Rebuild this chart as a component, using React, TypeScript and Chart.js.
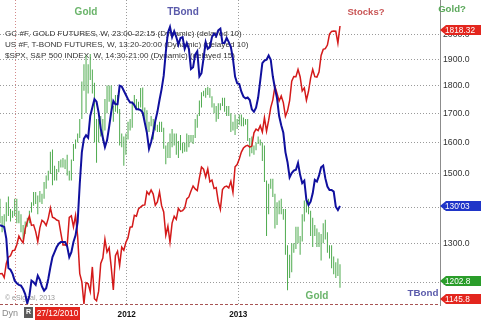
import React, { useEffect, useRef } from "react";
import { Chart, registerables } from "chart.js";

Chart.register(...registerables);

// ---------- DATA (weekly, Nov 2010 -> Dec 2013) ----------
const GOLD_HIGH = [
  1425, 1375, 1380, 1415, 1432, 1395, 1390, 1425, 1425, 1390,
  1380, 1350, 1360, 1370, 1390, 1415, 1445, 1445, 1435, 1448,
  1440, 1475, 1495, 1510, 1570, 1577, 1525, 1515, 1540, 1545,
  1550, 1545, 1560, 1510, 1545, 1595, 1610, 1630, 1680, 1815,
  1880, 1915, 1880, 1920, 1860, 1810, 1680, 1680, 1690, 1680,
  1750, 1800, 1800, 1800, 1725, 1765, 1765, 1715, 1630, 1620,
  1630, 1670, 1680, 1740, 1765, 1750, 1740, 1790, 1792, 1720,
  1710, 1670, 1690, 1680, 1680, 1660, 1670, 1670, 1650, 1590,
  1600, 1630, 1645, 1630, 1630, 1605, 1625, 1600, 1600, 1630,
  1625, 1625, 1625, 1680, 1695, 1745, 1775, 1780, 1790, 1795,
  1790, 1760, 1735, 1725, 1735, 1735, 1755, 1755, 1725, 1725,
  1700, 1670, 1695, 1680, 1695, 1695, 1685, 1680, 1680, 1615,
  1620, 1590, 1600, 1620, 1610, 1600, 1590, 1480, 1470, 1485,
  1485, 1440, 1415, 1420, 1425, 1395, 1395, 1295, 1270, 1300,
  1300, 1345, 1345, 1320, 1380, 1420, 1430, 1425, 1390, 1370,
  1350, 1340, 1330, 1325, 1355, 1365, 1330, 1295, 1295, 1265,
  1250, 1260, 1245,
];
const GOLD_LOW = [
  1355, 1330, 1340, 1360, 1375, 1360, 1370, 1375, 1355, 1355,
  1330, 1310, 1325, 1345, 1355, 1385, 1405, 1410, 1380, 1415,
  1410, 1425, 1455, 1480, 1500, 1465, 1480, 1480, 1505, 1520,
  1520, 1515, 1495, 1480, 1480, 1540, 1580, 1600, 1615, 1680,
  1780, 1700, 1770, 1820, 1770, 1600, 1535, 1600, 1620, 1605,
  1640, 1700, 1740, 1710, 1670, 1705, 1700, 1590, 1585, 1525,
  1560, 1610, 1640, 1650, 1720, 1715, 1710, 1720, 1690, 1670,
  1630, 1635, 1655, 1610, 1640, 1635, 1635, 1635, 1580, 1530,
  1550, 1550, 1585, 1590, 1560, 1550, 1575, 1565, 1570, 1570,
  1585, 1600, 1595, 1615, 1650, 1690, 1720, 1760, 1755, 1765,
  1755, 1720, 1700, 1670, 1680, 1710, 1725, 1705, 1690, 1690,
  1635, 1640, 1625, 1645, 1660, 1655, 1655, 1660, 1605, 1555,
  1565, 1560, 1575, 1595, 1590, 1540, 1475, 1320, 1380, 1455,
  1430, 1340, 1350, 1380, 1380, 1365, 1270, 1180, 1210, 1225,
  1275, 1285, 1300, 1270, 1305, 1360, 1385, 1380, 1320, 1290,
  1320, 1290, 1290, 1255, 1300, 1310, 1275, 1260, 1235, 1220,
  1210, 1215, 1186,
];
const GOLD_LAST = 1202.8;

const SPX = [
  1199.2, 1199.7, 1189.4, 1224.7, 1240.4, 1243.9, 1256.8, 1257.6, 1271.5, 1293.2,
  1283.4, 1276.3, 1310.9, 1329.2, 1343.0, 1319.9, 1321.2, 1304.3, 1279.2, 1313.8,
  1332.4, 1328.2, 1319.7, 1337.4, 1363.6, 1340.2, 1337.8, 1333.3, 1331.1, 1300.2,
  1271.0, 1271.5, 1268.5, 1339.7, 1343.8, 1316.1, 1345.0, 1292.3, 1199.4, 1178.8,
  1123.5, 1176.8, 1174.0, 1154.2, 1216.0, 1136.4, 1131.4, 1155.5, 1224.6, 1238.3,
  1285.1, 1253.2, 1263.9, 1215.7, 1158.7, 1244.3, 1255.2, 1219.7, 1265.3, 1257.6,
  1277.8, 1289.1, 1315.4, 1316.3, 1344.9, 1342.6, 1361.2, 1365.7, 1370.0, 1370.9,
  1404.2, 1397.1, 1408.5, 1398.1, 1370.3, 1378.5, 1403.4, 1369.1, 1353.4, 1295.2,
  1317.8, 1278.0, 1325.7, 1342.8, 1335.0, 1362.2, 1354.7, 1356.8, 1362.7, 1386.0,
  1391.0, 1405.9, 1418.2, 1411.1, 1406.6, 1437.9, 1465.8, 1460.2, 1440.7, 1460.9,
  1428.6, 1433.2, 1411.9, 1414.2, 1379.9, 1359.9, 1409.2, 1416.2, 1418.1, 1413.6,
  1430.2, 1402.4, 1466.5, 1472.1, 1486.0, 1503.0, 1513.2, 1517.9, 1519.8, 1515.6,
  1518.2, 1551.2, 1560.7, 1556.9, 1569.2, 1553.3, 1588.9, 1555.3, 1582.2, 1614.4,
  1633.7, 1667.5, 1649.6, 1630.7, 1643.4, 1626.7, 1592.4, 1606.3, 1631.9, 1680.2,
  1692.1, 1691.7, 1709.7, 1691.4, 1655.8, 1663.5, 1633.0, 1655.2, 1688.0, 1709.9,
  1691.8, 1690.5, 1703.2, 1744.5, 1759.8, 1761.6, 1770.6, 1798.2, 1804.8, 1805.8,
  1805.1, 1775.3, 1818.32,
];
const SPX_LOW_TAG = 1145.8;

const TBOND = [
  127.8, 127.7, 127.6, 126.2, 122.7, 122.5, 122.0, 121.2, 120.9, 120.7,
  120.6, 120.2, 119.6, 118.5, 119.4, 121.2, 121.0, 120.7, 121.8, 121.3,
  120.5, 120.0, 120.3, 121.4, 122.8, 124.0, 124.6, 125.2, 125.6, 125.8,
  125.8, 125.8, 125.3, 124.0, 124.6, 125.8, 126.6, 128.2, 132.7, 136.5,
  138.1, 138.5, 138.2, 140.8, 141.8, 142.8, 142.5, 141.2, 139.3, 138.2,
  137.1, 137.9, 139.5, 141.3, 142.6, 142.2, 142.2, 144.4, 144.3, 143.8,
  143.3, 142.8, 142.4, 142.4, 142.1, 141.6, 141.6, 141.5, 141.2, 140.0,
  138.8, 136.9, 137.7, 138.8, 140.2, 141.3, 142.7, 144.0, 145.6, 148.4,
  150.7, 151.4, 150.2, 150.9, 150.2, 149.3, 150.1, 150.2, 148.8, 149.5,
  148.8, 146.4, 146.6, 148.1, 148.5, 145.5, 145.9, 147.7, 149.6, 148.8,
  149.0, 150.2, 150.6, 150.3, 151.0, 151.2, 149.5, 149.5, 150.1, 149.6,
  149.0, 147.6, 145.5, 144.7, 144.6, 143.7, 143.1, 142.9, 143.0, 142.7,
  141.6, 141.3, 141.8, 143.0, 145.0, 147.1, 147.4, 147.5, 148.0, 147.5,
  145.5, 144.1, 142.9, 140.8, 139.7, 138.8, 136.5, 135.3, 133.5, 134.0,
  134.3, 134.4, 135.2, 133.8, 132.8, 133.1, 130.8, 130.2, 130.6, 131.6,
  133.2, 133.0, 133.7, 134.7, 134.9, 133.4, 132.4, 132.0, 132.0, 131.8,
  130.0, 129.6, 130.09,
];

const GOLD_TICKS = [1200, 1300, 1400, 1500, 1600, 1700, 1800, 1900, 2000];
const YEAR_LABELS = ["2012", "2013"];
const YEAR_WEEKS = [60.37, 113.54]; // week index of year boundaries
const CURSOR_WEEK = 7.62; // 27/12/2010
const START_DATE = "27/12/2010";
const INFO_LINES = [
  "GC #F, GOLD FUTURES, W, 23:00-22:15 (Dynamic) (delayed 10)",
  "US #F, T-BOND FUTURES, W, 13:20-20:00 (Dynamic) (delayed 10)",
  "$SPX, S&P 500 INDEX, W, 14:30-21:00 (Dynamic) (delayed 15)",
];
const COPYRIGHT = "© eSignal, 2013";

// axis ranges
const X_MAX = 209.65;
const GOLD_MIN = 1144.8;
const GOLD_MAX = 2146.5;
const SPX_MIN = 1120.82;
const SPX_MAX = 1883.32;
const BOND_MIN = 118.3;
const BOND_MAX = 154.61;

const FONT = "'Liberation Sans', Arial, sans-serif";

function bond32(v: number) {
  const whole = Math.floor(v);
  const t = Math.round((v - whole) * 32);
  return `${whole}'${String(t).padStart(2, "0")}`;
}

function drawTag(ctx: CanvasRenderingContext2D, x0: number, y: number, text: string, color: string) {
  const h = 10;
  ctx.fillStyle = color;
  ctx.beginPath();
  ctx.moveTo(x0, y);
  ctx.lineTo(x0 + 6, y - h / 2);
  ctx.lineTo(x0 + 41, y - h / 2);
  ctx.lineTo(x0 + 41, y + h / 2);
  ctx.lineTo(x0 + 6, y + h / 2);
  ctx.closePath();
  ctx.fill();
  ctx.fillStyle = "#fff";
  ctx.font = `8.3px ${FONT}`;
  ctx.textAlign = "left";
  ctx.textBaseline = "middle";
  ctx.fillText(text, x0 + 5, y + 0.5);
}

const overlayPlugin = {
  id: "overlay",
  beforeDatasetsDraw(chart: any) {
    const ctx = chart.ctx as CanvasRenderingContext2D;
    ctx.save();
    ctx.font = `8.1px ${FONT}`;
    ctx.fillStyle = "#333";
    ctx.textBaseline = "middle";
    ctx.textAlign = "left";
    INFO_LINES.forEach((t, k) => ctx.fillText(t, 5, 33.5 + k * 11));
    ctx.font = `7px ${FONT}`;
    ctx.fillStyle = "#9a9a9a";
    ctx.fillText(COPYRIGHT, 5, 298);
    ctx.restore();
  },
  afterDraw(chart: any) {
    const ctx = chart.ctx as CanvasRenderingContext2D;
    const { left, right, bottom } = chart.chartArea;
    const s = chart.scales;
    ctx.save();
    // bottom dashed level line
    ctx.strokeStyle = "#a85454";
    ctx.lineWidth = 1;
    ctx.setLineDash([3, 2]);
    ctx.beginPath();
    ctx.moveTo(left, bottom - 0.5);
    ctx.lineTo(right, bottom - 0.5);
    ctx.stroke();
    ctx.setLineDash([]);

    // annotations
    const notes: [string, string, number, number, number][] = [
      ["Gold", "#6ab46a", 86, 12.5, 10],
      ["TBond", "#5b5bab", 183, 12.5, 10],
      ["Stocks?", "#c95656", 366, 12, 9.5],
      ["Gold?", "#5aa85a", 452, 9, 9.6],
      ["Gold", "#6ab46a", 317, 296, 10],
      ["TBond", "#5b5bab", 423, 293, 9.8],
    ];
    ctx.textAlign = "center";
    ctx.textBaseline = "middle";
    notes.forEach(([t, c, x, y, sz]) => {
      ctx.font = `bold ${sz}px ${FONT}`;
      ctx.fillStyle = c;
      ctx.fillText(t, x, y);
    });

    // value tags on the right axis
    const x0 = right;
    const spxLast = SPX[SPX.length - 1];
    drawTag(ctx, x0, s.ySpx.getPixelForValue(spxLast) + 4, spxLast.toFixed(2), "#e3261e");
    drawTag(ctx, x0, s.yBond.getPixelForValue(TBOND[TBOND.length - 1]), bond32(TBOND[TBOND.length - 1]), "#1f35c8");
    drawTag(ctx, x0, s.y.getPixelForValue(GOLD_LAST), GOLD_LAST.toFixed(1), "#2a9d2a");
    drawTag(ctx, x0, Math.min(s.ySpx.getPixelForValue(SPX_LOW_TAG) + 4, bottom - 4), SPX_LOW_TAG.toFixed(1), "#e3261e");

    // bottom-left widgets
    ctx.textAlign = "left";
    ctx.textBaseline = "middle";
    ctx.font = `9px ${FONT}`;
    ctx.fillStyle = "#8a8a8a";
    ctx.fillText("Dyn", 2, 313.5);
    ctx.fillStyle = "#5a5a5a";
    ctx.fillRect(24, 307, 9, 11);
    ctx.fillStyle = "#fff";
    ctx.font = `bold 7px ${FONT}`;
    ctx.fillText("R", 26, 312.5);
    ctx.fillStyle = "#e3261e";
    ctx.fillRect(35, 307, 45, 13);
    ctx.fillStyle = "#fff";
    ctx.font = `8.3px ${FONT}`;
    ctx.textAlign = "center";
    ctx.fillText(START_DATE, 57.5, 314);
    ctx.restore();
  },
};

export default function App() {
  const ref = useRef<HTMLCanvasElement | null>(null);
  useEffect(() => {
    if (!ref.current) return;
    const chart = new Chart(ref.current, {
      type: "line",
      data: {
        datasets: [
          {
            type: "line",
            label: "T-Bond",
            data: TBOND.map((v, i) => ({ x: i, y: v })),
            borderColor: "#10109e",
            borderWidth: 2,
            pointRadius: 0,
            tension: 0,
            yAxisID: "yBond",
            xAxisID: "x",
            order: 1,
          } as any,
          {
            type: "line",
            label: "S&P 500",
            data: SPX.map((v, i) => ({ x: i, y: v })),
            borderColor: "#d41a1a",
            borderWidth: 1.5,
            pointRadius: 0,
            tension: 0,
            yAxisID: "ySpx",
            xAxisID: "x",
            order: 2,
          } as any,
          {
            type: "bar",
            label: "Gold",
            data: GOLD_HIGH.map((h, i) => ({ x: i, y: [GOLD_LOW[i], h] })),
            backgroundColor: "#4eaa4e",
            borderWidth: 0,
            barThickness: 1,
            inflateAmount: 0,
            grouped: false,
            yAxisID: "y",
            xAxisID: "x",
            order: 3,
          } as any,
        ],
      },
      options: {
        responsive: true,
        maintainAspectRatio: false,
        animation: false,
        events: [],
        layout: { padding: 0 },
        plugins: { legend: { display: false }, tooltip: { enabled: false } },
        scales: {
          x: {
            type: "linear",
            min: 0,
            max: X_MAX,
            offset: false,
            grid: {
              color: (c: any) => (c.index === 0 ? "#d28a8a" : "#9a9a9a"),
              lineWidth: 1,
              drawTicks: false,
              offset: false,
            },
            border: { display: false, dash: [1, 2] },
            ticks: {
              autoSkip: false,
              maxRotation: 0,
              padding: 5,
              color: "#111",
              font: { size: 8.2, weight: "bold", family: FONT },
              callback: (_v: any, i: number) => (i === 0 ? "" : YEAR_LABELS[i - 1]),
            },
            afterBuildTicks: (sc: any) => {
              sc.ticks = [CURSOR_WEEK, ...YEAR_WEEKS].map((v) => ({ value: v }));
            },
            afterFit: (sc: any) => {
              sc.height = 15;
              sc.paddingLeft = 0;
              sc.paddingRight = 0;
            },
          } as any,
          y: {
            type: "logarithmic",
            position: "right",
            min: GOLD_MIN,
            max: GOLD_MAX,
            grid: { color: "#9a9a9a", drawTicks: false },
            border: { display: true, color: "#8c8c8c", width: 1, dash: [1, 2] },
            ticks: {
              autoSkip: false,
              padding: 3,
              color: "#333",
              font: { size: 8.7, family: FONT },
              callback: (v: any) => Number(v).toFixed(1),
            },
            afterBuildTicks: (sc: any) => {
              sc.ticks = GOLD_TICKS.map((v) => ({ value: v }));
            },
            afterFit: (sc: any) => {
              sc.width = 42;
              sc.paddingTop = 0;
              sc.paddingBottom = 0;
            },
          } as any,
          ySpx: { type: "linear", display: false, min: SPX_MIN, max: SPX_MAX },
          yBond: { type: "linear", display: false, min: BOND_MIN, max: BOND_MAX },
        },
      },
      plugins: [overlayPlugin],
    });
    return () => chart.destroy();
  }, []);
  return (
    <div style={{ position: "fixed", left: 0, top: 0, width: 482, height: 320, background: "#fff" }}>
      <canvas ref={ref} />
    </div>
  );
}
